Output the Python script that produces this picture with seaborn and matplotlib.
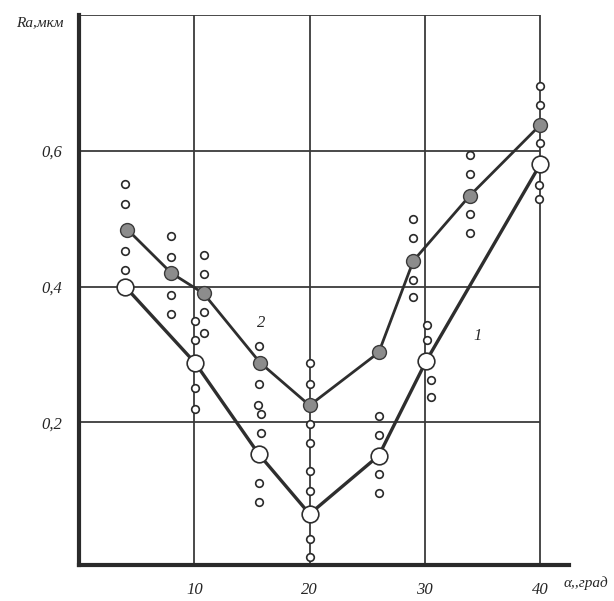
import pandas as pd
import matplotlib
matplotlib.use('Agg')
import matplotlib.pyplot as plt
import seaborn as sns

# curve 1 (open circles) and curve 2 (grey filled circles)
angle_1 = [4.0, 10.1, 15.6, 20.0, 26.0, 30.1, 40.0]
ra_1 = [0.400, 0.287, 0.153, 0.065, 0.151, 0.290, 0.580]

angle_2 = [4.2, 8.0, 10.8, 15.7, 20.0, 26.0, 29.0, 33.9, 40.0]
ra_2 = [0.484, 0.420, 0.390, 0.288, 0.225, 0.303, 0.438, 0.534, 0.638]

# individual measurements (small circles)
spread_x = [4.0, 4.0, 4.0, 4.0,
            8.0, 8.0, 8.0, 8.0,
            10.8, 10.8, 10.8, 10.8,
            10.1, 10.1, 10.1, 10.1,
            15.6, 15.6, 15.5, 15.8, 15.8, 15.6, 15.6,
            20.0, 20.0, 20.0, 20.0, 20.0, 20.0, 20.0, 20.0,
            26.0, 26.0, 26.0, 26.0,
            29.0, 29.0, 29.0, 29.0,
            30.2, 30.2, 30.5, 30.5,
            33.9, 33.9, 33.9, 33.9,
            40.0, 40.0, 40.0, 39.9, 39.9]
spread_y = [0.551, 0.522, 0.453, 0.424,
            0.474, 0.444, 0.388, 0.360,
            0.447, 0.419, 0.362, 0.332,
            0.350, 0.322, 0.251, 0.220,
            0.313, 0.256, 0.226, 0.213, 0.184, 0.110, 0.082,
            0.287, 0.257, 0.198, 0.169, 0.128, 0.099, 0.028, 0.002,
            0.210, 0.182, 0.124, 0.096,
            0.499, 0.471, 0.410, 0.384,
            0.343, 0.322, 0.263, 0.237,
            0.594, 0.566, 0.507, 0.479,
            0.696, 0.668, 0.612, 0.549, 0.529]

x_ticks = [10, 20, 30, 40]
y_ticks = [0.2, 0.4, 0.6]
y_tick_labels = ['0,2', '0,4', '0,6']

sns.set_theme(style='white')
plt.rcParams['font.family'] = ['Liberation Serif', 'DejaVu Serif']
plt.rcParams['font.style'] = 'italic'

fig = plt.figure(figsize=(6.14, 6.01), dpi=100)
ax = fig.add_axes([0.1287, 0.06, 0.798, 0.915])

grid_color = '#3a3a3a'
for x in x_ticks:
    ax.axvline(x, ymin=0, ymax=1, color=grid_color, lw=1.3, zorder=1)
for y in y_ticks + [0.8]:
    ax.hlines(y, 0, 40, color=grid_color, lw=1.3, zorder=1)

df_spread = pd.DataFrame({'x': spread_x, 'y': spread_y})
sns.scatterplot(data=df_spread, x='x', y='y', ax=ax, marker='o', s=30,
                facecolor='white', edgecolor='#2a2a2a', linewidth=1.2, zorder=3)

df1 = pd.DataFrame({'x': angle_1, 'y': ra_1})
df2 = pd.DataFrame({'x': angle_2, 'y': ra_2})
sns.lineplot(data=df1, x='x', y='y', ax=ax, color='#2e2e2e', lw=2.4,
             marker='o', markersize=12, markerfacecolor='white',
             markeredgecolor='#2e2e2e', markeredgewidth=1.2, zorder=4)
sns.lineplot(data=df2, x='x', y='y', ax=ax, color='#2e2e2e', lw=2.0,
             marker='o', markersize=10, markerfacecolor='#8c8c8c',
             markeredgecolor='#3a3a3a', markeredgewidth=1.0, zorder=5)

ax.text(15.8, 0.347, '2', fontsize=12, ha='center', va='center')
ax.text(34.6, 0.327, '1', fontsize=12, ha='center', va='center')

ax.set_xlim(0, 42.5)
ax.set_ylim(-0.01, 0.8)
ax.set_xticks(x_ticks)
ax.set_xticklabels([str(v) for v in x_ticks], fontsize=12)
ax.set_yticks(y_ticks)
ax.set_yticklabels(y_tick_labels, fontsize=12)
ax.tick_params(length=0, pad=12)
ax.tick_params(axis='y', pad=12)
ax.set_xlabel('')
ax.set_ylabel('')

for side in ['top', 'right']:
    ax.spines[side].set_visible(False)
for side in ['left', 'bottom']:
    ax.spines[side].set_color('#2a2a2a')
    ax.spines[side].set_linewidth(3)

fig.text(0.065, 0.962, 'Ra,мкм', fontsize=11, ha='center', va='center')
fig.text(0.955, 0.03, 'α,,град', fontsize=11, ha='center', va='center')

fig.savefig('out.png', dpi=100, facecolor='white')
